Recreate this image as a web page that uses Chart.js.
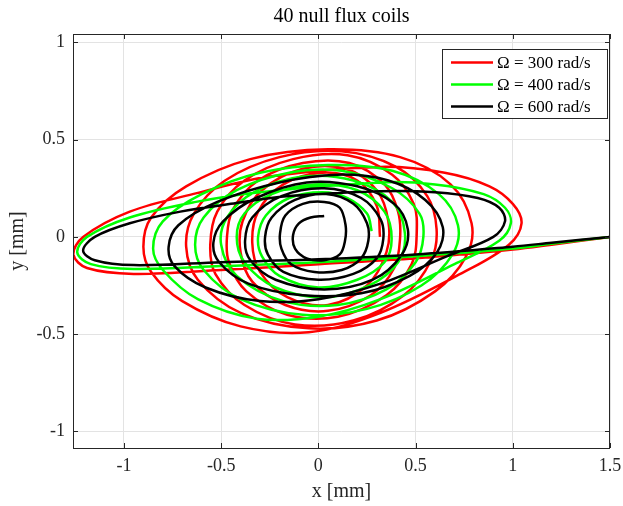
<!DOCTYPE html>
<html>
<head>
<meta charset="utf-8">
<script src="https://cdn.jsdelivr.net/npm/chart.js@4.4.1/dist/chart.umd.min.js"></script>
<style>
    html, body { margin: 0; padding: 0; background: #fff; overflow: hidden; }
    #wrap { width: 623px; height: 506px; position: relative; }
    canvas { display: block; }
</style>
</head>
<body>
<div id="wrap"><canvas id="orbitChart"></canvas></div>
<script>
const chartTitle = '40 null flux coils';
const seriesLabels = ['\u03A9 = 300 rad/s', '\u03A9 = 400 rad/s', '\u03A9 = 600 rad/s'];
const xTicks = [-1, -0.5, 0, 0.5, 1, 1.5];
const yTicks = [-1, -0.5, 0, 0.5, 1];

// orbit points [x, y] in mm
const orbit300 = [
    [1.5, 0], [1.2, -0.04], [1.0, -0.065], [0.5, -0.11], [0, -0.14], [-0.5, -0.17], [-0.95, -0.19], [-1.19, -0.16], [-1.26, -0.09],
    [-1.21, 0.0], [-0.97, 0.13], [-0.625, 0.225], [-0.25, 0.31], [0.32, 0.36], [0.65, 0.33], [0.88, 0.26], [1.0, 0.17], [1.045, 0.07],
    [0.98, -0.04], [0.75, -0.18], [0.32, -0.39], [-0.05, -0.49], [-0.4, -0.46], [-0.7, -0.33], [-0.86, -0.18], [-0.90, -0.05],
    [-0.86, 0.1], [-0.68, 0.26], [-0.35, 0.4], [0.05, 0.45], [0.42, 0.41], [0.68, 0.27], [0.788, 0.07],
    [0.76, -0.1], [0.6, -0.28], [0.3, -0.43], [-0.05, -0.47], [-0.4, -0.39], [-0.62, -0.22], [-0.68, -0.05],
    [-0.64, 0.12], [-0.48, 0.29], [-0.2, 0.41], [0.12, 0.44], [0.4, 0.36], [0.56, 0.21], [0.608, 0.04],
    [0.58, -0.12], [0.44, -0.3], [0.18, -0.43], [-0.12, -0.45], [-0.38, -0.35], [-0.53, -0.19], [-0.556, -0.04],
    [-0.52, 0.13], [-0.38, 0.29], [-0.13, 0.4], [0.15, 0.42], [0.38, 0.32], [0.49, 0.17], [0.506, 0.02],
    [0.48, -0.14], [0.35, -0.3], [0.1, -0.41], [-0.16, -0.4], [-0.37, -0.28], [-0.46, -0.13], [-0.47, 0.0],
    [-0.44, 0.14], [-0.31, 0.29], [-0.08, 0.38], [0.16, 0.38], [0.34, 0.27], [0.41, 0.13], [0.42, -0.01],
    [0.39, -0.16], [0.27, -0.3], [0.05, -0.38], [-0.17, -0.35], [-0.34, -0.23], [-0.4, -0.08],
    [-0.39, 0.08], [-0.29, 0.24], [-0.08, 0.35], [0.14, 0.35], [0.3, 0.24], [0.36, 0.08],
    [0.35, -0.08], [0.25, -0.25], [0.05, -0.35], [-0.16, -0.31], [-0.3, -0.18], [-0.34, -0.03],
    [-0.31, 0.13], [-0.18, 0.27], [0.02, 0.33], [0.2, 0.29], [0.3, 0.16], [0.317, 0.0]
];

const orbit400 = [
    [1.5, 0], [1.2, -0.035], [1.0, -0.06], [0.5, -0.10], [0, -0.13], [-0.5, -0.15], [-0.95, -0.165], [-1.17, -0.14], [-1.24, -0.08],
    [-1.19, 0.0], [-0.97, 0.1], [-0.63, 0.18], [-0.3, 0.23], [0.32, 0.28], [0.6, 0.27], [0.85, 0.22], [0.96, 0.15], [0.99, 0.07],
    [0.93, -0.02], [0.7, -0.14], [0.32, -0.32], [0.0, -0.41], [-0.32, -0.42], [-0.62, -0.32], [-0.8, -0.17], [-0.85, -0.06],
    [-0.8, 0.08], [-0.6, 0.22], [-0.3, 0.33], [0.05, 0.37], [0.38, 0.34], [0.62, 0.22], [0.718, 0.06],
    [0.69, -0.09], [0.53, -0.25], [0.25, -0.37], [-0.08, -0.40], [-0.4, -0.32], [-0.59, -0.17], [-0.634, -0.04],
    [-0.59, 0.1], [-0.42, 0.24], [-0.15, 0.33], [0.12, 0.34], [0.38, 0.25], [0.52, 0.12], [0.54, 0.0],
    [0.5, -0.13], [0.35, -0.27], [0.1, -0.35], [-0.18, -0.33], [-0.42, -0.2], [-0.5, -0.04],
    [-0.47, 0.1], [-0.33, 0.23], [-0.08, 0.31], [0.18, 0.29], [0.38, 0.18], [0.445, 0.02],
    [0.41, -0.13], [0.26, -0.25], [0.03, -0.31], [-0.22, -0.26], [-0.38, -0.13], [-0.42, 0.0],
    [-0.38, 0.12], [-0.24, 0.22], [-0.02, 0.27], [0.2, 0.24], [0.34, 0.13], [0.377, -0.01],
    [0.34, -0.13], [0.2, -0.22], [0.0, -0.26], [-0.2, -0.2], [-0.29, -0.1], [-0.31, 0.0],
    [-0.27, 0.11], [-0.15, 0.2], [0.02, 0.23], [0.15, 0.2], [0.25, 0.12], [0.274, 0.03]
];

const orbit600 = [
    [1.5, 0], [1.2, -0.03], [1.0, -0.05], [0.5, -0.09], [0, -0.115], [-0.5, -0.13], [-0.95, -0.145], [-1.15, -0.12], [-1.21, -0.07],
    [-1.15, 0.0], [-0.97, 0.07], [-0.71, 0.13], [-0.45, 0.17], [-0.15, 0.21], [0.32, 0.235], [0.6, 0.23], [0.82, 0.2], [0.93, 0.15], [0.96, 0.08],
    [0.9, 0.0], [0.66, -0.10], [0.32, -0.24], [0.0, -0.32], [-0.3, -0.33], [-0.58, -0.26], [-0.74, -0.15], [-0.77, -0.05],
    [-0.72, 0.06], [-0.52, 0.18], [-0.2, 0.28], [0.1, 0.32], [0.36, 0.29], [0.55, 0.19], [0.64, 0.05],
    [0.61, -0.08], [0.47, -0.2], [0.22, -0.29], [-0.08, -0.30], [-0.36, -0.24], [-0.51, -0.13], [-0.54, -0.03],
    [-0.49, 0.08], [-0.32, 0.2], [-0.06, 0.28], [0.2, 0.26], [0.39, 0.17], [0.46, 0.04],
    [0.43, -0.09], [0.28, -0.22], [0.03, -0.27], [-0.22, -0.22], [-0.35, -0.12], [-0.377, -0.02],
    [-0.34, 0.1], [-0.19, 0.21], [0.03, 0.25], [0.22, 0.2], [0.32, 0.09], [0.334, -0.01],
    [0.3, -0.11], [0.18, -0.19], [0.0, -0.22], [-0.18, -0.18], [-0.26, -0.09], [-0.274, 0.0],
    [-0.24, 0.1], [-0.12, 0.19], [0.04, 0.22], [0.18, 0.17], [0.25, 0.07], [0.257, -0.02],
    [0.22, -0.11], [0.12, -0.17], [-0.02, -0.18], [-0.14, -0.14], [-0.19, -0.06], [-0.197, 0.02],
    [-0.17, 0.11], [-0.08, 0.17], [0.03, 0.18], [0.11, 0.15], [0.14, 0.06], [0.137, -0.02],
    [0.11, -0.09], [0.03, -0.12], [-0.06, -0.11], [-0.12, -0.06], [-0.13, 0.01],
    [-0.1, 0.07], [-0.04, 0.1], [0.03, 0.108]
];

const seriesColors = ['#ff0000', '#00ff00', '#000000'];
const FONT = "'Liberation Serif', 'Times New Roman', serif";

function toPoints(arr) {
    return arr.map(p => ({ x: p[0], y: p[1] }));
}

// MATLAB-style box, inner ticks, title and legend
const boxPlugin = {
    id: 'matlabBox',
    afterDraw(chart) {
        const { ctx, chartArea: a, scales } = chart;
        ctx.save();
        ctx.strokeStyle = '#262626';
        ctx.lineWidth = 1;
        ctx.strokeRect(a.left + 0.5, a.top + 0.5, a.right - a.left - 1, a.bottom - a.top);
        ctx.beginPath();
        xTicks.forEach(v => {
            const px = Math.round(scales.x.getPixelForValue(v)) + 0.5;
            ctx.moveTo(px, a.bottom); ctx.lineTo(px, a.bottom - 5);
            ctx.moveTo(px, a.top); ctx.lineTo(px, a.top + 5);
        });
        yTicks.forEach(v => {
            const py = Math.round(scales.y.getPixelForValue(v)) + 0.5;
            ctx.moveTo(a.left, py); ctx.lineTo(a.left + 5, py);
            ctx.moveTo(a.right, py); ctx.lineTo(a.right - 5, py);
        });
        ctx.stroke();

        // title
        ctx.fillStyle = '#000';
        ctx.font = '20px ' + FONT;
        ctx.textAlign = 'center';
        ctx.textBaseline = 'middle';
        ctx.fillText(chartTitle, (a.left + a.right) / 2, 17);

        // legend
        const lx = 442.5, ly = 49.5, lw = 165, lh = 69;
        ctx.fillStyle = '#fff';
        ctx.fillRect(lx, ly, lw, lh);
        ctx.strokeStyle = '#262626';
        ctx.strokeRect(lx, ly, lw, lh);
        ctx.font = '17px ' + FONT;
        ctx.textAlign = 'left';
        chart.data.datasets.forEach((ds, i) => {
            const y = 62.5 + i * 22;
            ctx.strokeStyle = ds.borderColor;
            ctx.lineWidth = 2.5;
            ctx.beginPath();
            ctx.moveTo(451, y); ctx.lineTo(493, y);
            ctx.stroke();
            ctx.fillStyle = '#000';
            ctx.fillText(ds.label, 497, y + 1);
        });
        ctx.restore();
    }
};

const datasets = [orbit300, orbit400, orbit600].map((arr, i) => ({
    label: seriesLabels[i],
    data: toPoints(arr),
    showLine: true,
    borderColor: seriesColors[i],
    backgroundColor: seriesColors[i],
    borderWidth: 2.5,
    pointRadius: 0,
    tension: 0.35,
    order: 3 - i
}));

new Chart(document.getElementById('orbitChart').getContext('2d'), {
    type: 'scatter',
    data: { datasets: datasets },
    plugins: [boxPlugin],
    options: {
        responsive: true,
        maintainAspectRatio: false,
        animation: false,
        layout: { autoPadding: false, padding: { top: 34, right: 13, left: 0, bottom: 0 } },
        plugins: {
            legend: { display: false },
            tooltip: { enabled: false },
            title: { display: false }
        },
        scales: {
            x: {
                type: 'linear',
                min: -1.262,
                max: 1.5,
                afterBuildTicks: s => { s.ticks = xTicks.map(v => ({ value: v })); },
                afterFit: s => { s.height = 58; s.paddingLeft = 0; s.paddingRight = 0; },
                grid: { color: '#e3e3e3', drawTicks: false },
                border: { display: false },
                ticks: { padding: 7, color: '#262626', font: { family: FONT, size: 18 }, callback: v => String(v) },
                title: { display: true, text: 'x [mm]', color: '#262626', font: { family: FONT, size: 20 }, padding: { top: 0, bottom: 2 } }
            },
            y: {
                type: 'linear',
                min: -1.085,
                max: 1.043,
                afterBuildTicks: s => { s.ticks = yTicks.map(v => ({ value: v })); },
                afterFit: s => { s.width = 73; s.paddingTop = 0; s.paddingBottom = 0; },
                grid: { color: '#e3e3e3', drawTicks: false },
                border: { display: false },
                ticks: { padding: 8, color: '#262626', font: { family: FONT, size: 18 }, callback: v => String(v) },
                title: { display: true, text: 'y [mm]', color: '#262626', font: { family: FONT, size: 20 }, padding: { top: 6, bottom: 0 } }
            }
        }
    }
});
</script>
</body>
</html>
